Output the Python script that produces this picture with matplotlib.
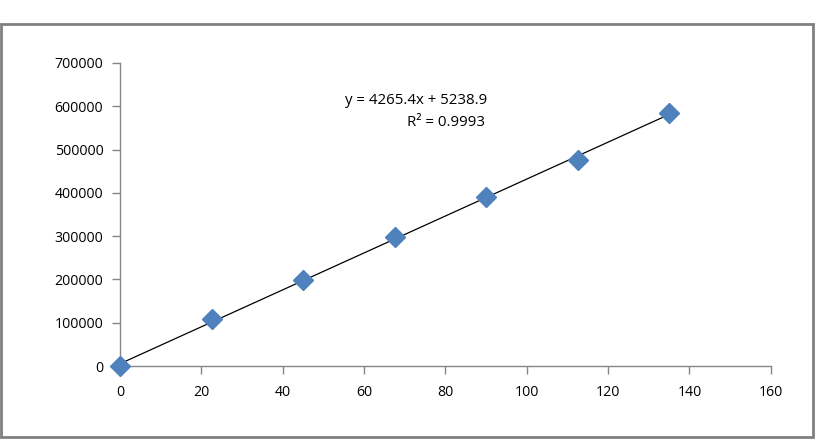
import numpy as np
from matplotlib import pyplot as plt
from matplotlib.patches import Rectangle

# data
conc = [0, 22.5, 45, 67.5, 90, 112.5, 135]
area = [0, 108000, 198000, 297500, 391000, 476500, 585000]

# trendline as reported in the chart
slope = 4265.4
intercept = 5238.9
r2 = 0.9993

x_ticks = [0, 20, 40, 60, 80, 100, 120, 140, 160]
y_ticks = [0, 100000, 200000, 300000, 400000, 500000, 600000, 700000]

plt.rcParams['font.family'] = ['Open Sans', 'DejaVu Sans']
axis_gray = '#868686'

fig = plt.figure(figsize=(8.25, 4.42), dpi=100)
fig.patch.set_facecolor('white')

# chart area border
fig.patches.append(Rectangle((1 / 825, 1 - 437 / 442), 812 / 825, 413 / 442,
                             transform=fig.transFigure, fill=False,
                             edgecolor='#808080', linewidth=2))

ax = fig.add_axes([120 / 825, 1 - 366 / 442, 650.7 / 825, 303 / 442])

line_x = np.array([min(conc), max(conc)])
ax.plot(line_x, slope * line_x + intercept, color='black', linewidth=0.9, zorder=2)
ax.plot(conc, area, linestyle='none', marker='D', markersize=10.5,
        color='#4F81BD', markeredgecolor='#4F81BD', zorder=3, clip_on=False)

ax.set_xlim(0, 160)
ax.set_ylim(0, 700000)
ax.set_xticks(x_ticks)
ax.set_yticks(y_ticks)
ax.set_xticklabels([str(t) for t in x_ticks])
ax.set_yticklabels([str(t) for t in y_ticks])

for side in ['top', 'right']:
    ax.spines[side].set_visible(False)
for side in ['left', 'bottom']:
    ax.spines[side].set_color(axis_gray)
    ax.spines[side].set_linewidth(1)
ax.tick_params(axis='both', direction='out', length=6, color=axis_gray,
               labelsize=10.2, labelcolor='black', width=1)
ax.tick_params(axis='x', pad=8)
ax.tick_params(axis='y', pad=6)

ax.text(487 / 825, 1 - 100 / 442, f'y = {slope}x + {intercept}',
        transform=fig.transFigure, ha='right', va='center', fontsize=10.8)
ax.text(485 / 825, 1 - 123 / 442, f'R² = {r2}',
        transform=fig.transFigure, ha='right', va='center', fontsize=10.8)

fig.savefig('out.png', dpi=100, facecolor='white')
